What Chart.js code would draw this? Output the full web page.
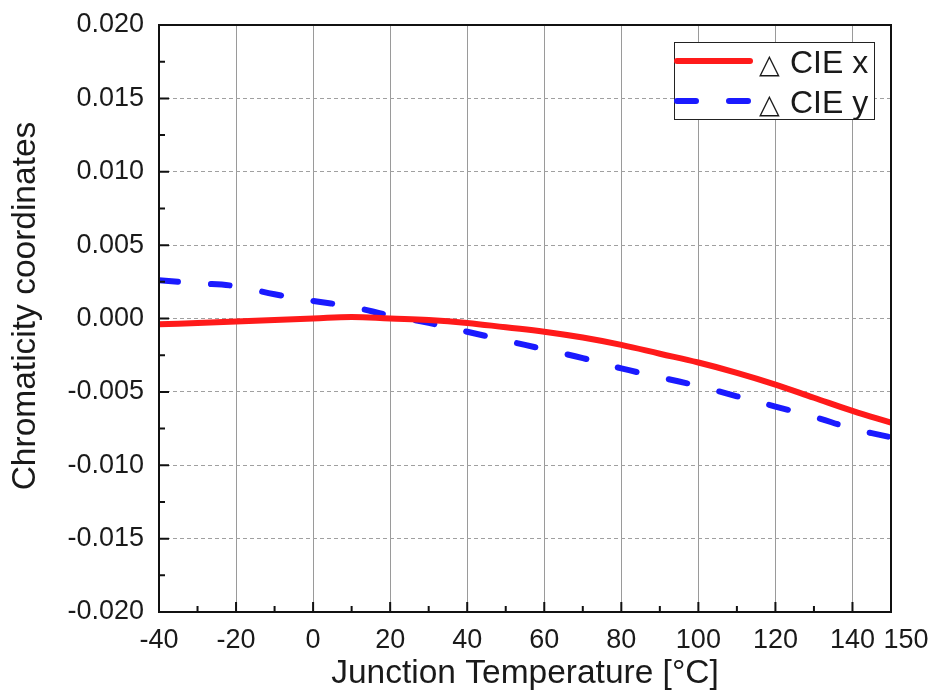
<!DOCTYPE html>
<html><head><meta charset="utf-8">
<script src="https://cdn.jsdelivr.net/npm/chart.js@4/dist/chart.umd.min.js"></script>
<style>html,body{margin:0;padding:0;background:#fff}#wrap{width:933px;height:693px}</style>
</head><body><div id="wrap"><canvas id="c" width="933" height="693"></canvas></div>
<script>
const temperatures = [-40,-30,-20,-10,0,10,20,30,40,50,60,70,80,90,100,110,120,130,140,150];
const deltaCIEx = [-0.0004,-0.0003,-0.0002,-0.0001,0.0000,0.0001,0.0000,-0.0001,-0.0003,-0.0006,-0.0009,-0.0013,-0.0018,-0.0024,-0.0030,-0.0037,-0.0045,-0.0054,-0.0063,-0.0071];
const deltaCIEy = [0.0026,0.0024,0.0022,0.00165,0.0012,0.0008,0.0002,-0.0003,-0.0009,-0.0015,-0.0021,-0.0027,-0.0034,-0.0040,-0.0046,-0.0053,-0.0060,-0.0067,-0.0075,-0.0081];
const xTickValues = [-40,-20,0,20,40,60,80,100,120,140,150];
const xMinorValues = [-30,-10,10,30,50,70,90,110,130];
const yTickValues = [-0.02,-0.015,-0.01,-0.005,0,0.005,0.01,0.015,0.02];
const seriesLabels = ['\u25B3 CIE x','\u25B3 CIE y'];
const xTitle = 'Junction Temperature [\u00B0C]';
const yTitle = 'Chromaticity coordinates';

const FONT = "'Liberation Sans', Arial, 'DejaVu Sans', sans-serif";

const decor = {
  id:'decor',
  afterDraw(chart){
    const ctx = chart.ctx, a = chart.chartArea, xs = chart.scales.x, ys = chart.scales.y;
    ctx.save();
    ctx.strokeStyle = '#111'; ctx.lineWidth = 2; ctx.setLineDash([]);
    ctx.strokeRect(a.left, a.top, a.right - a.left, a.bottom - a.top);
    ctx.beginPath();
    xTickValues.forEach(v => { const p = xs.getPixelForValue(v); ctx.moveTo(p, a.bottom); ctx.lineTo(p, a.bottom - 10); });
    xMinorValues.forEach(v => { const p = xs.getPixelForValue(v); ctx.moveTo(p, a.bottom); ctx.lineTo(p, a.bottom - 6); });
    yTickValues.forEach(v => { const p = ys.getPixelForValue(v); ctx.moveTo(a.left, p); ctx.lineTo(a.left + 10, p); });
    for (let i = 0; i < yTickValues.length - 1; i++) {
      const p = ys.getPixelForValue((yTickValues[i] + yTickValues[i+1]) / 2);
      ctx.moveTo(a.left, p); ctx.lineTo(a.left + 6, p);
    }
    ctx.stroke();
    ctx.fillStyle = '#1a1a1a';
    ctx.font = '33.5px ' + FONT;
    ctx.textAlign = 'center'; ctx.textBaseline = 'middle';
    ctx.fillText(xTitle, (a.left + a.right) / 2, 674);
    ctx.save();
    ctx.translate(26, 306); ctx.rotate(-Math.PI / 2);
    ctx.fillText(yTitle, 0, 0);
    ctx.restore();
    const lx = 674, ly = 42, lw = 200, lh = 77;
    ctx.fillStyle = '#fff'; ctx.fillRect(lx, ly, lw, lh);
    ctx.strokeStyle = '#222'; ctx.lineWidth = 1; ctx.strokeRect(lx + 0.5, ly + 0.5, lw, lh);
    chart.data.datasets.forEach((ds, i) => {
      const yy = ly + 19 + i * 40;
      ctx.save();
      ctx.strokeStyle = ds.borderColor; ctx.lineWidth = ds.borderWidth; ctx.lineCap = 'round';
      ctx.setLineDash(ds.borderDash || []);
      ctx.beginPath(); ctx.moveTo(lx + 3, yy); ctx.lineTo(lx + 76, yy); ctx.stroke();
      ctx.restore();
      const sp = ds.label.indexOf(' ');
      const sym = ds.label.slice(0, sp), txt = ds.label.slice(sp + 1);
      ctx.fillStyle = '#1a1a1a'; ctx.textAlign = 'left'; ctx.textBaseline = 'alphabetic';
      ctx.font = "27px 'DejaVu Sans', sans-serif";
      ctx.fillText(sym, lx + 85, yy + 12);
      ctx.font = '32px ' + FONT;
      ctx.fillText(txt, lx + 116, yy + 12);
    });
    ctx.restore();
  }
};

function zeroPad(s){ s.paddingLeft = 0; s.paddingRight = 0; s.paddingTop = 0; s.paddingBottom = 0; }

new Chart(document.getElementById('c'), {
  type: 'line',
  data: {
    labels: temperatures,
    datasets: [
      { label: seriesLabels[0], data: temperatures.map((t,i)=>({x:t,y:deltaCIEx[i]})), borderColor:'#ff1a1a', borderWidth:6, pointRadius:0, tension:0.4, fill:false, borderCapStyle:'round' },
      { label: seriesLabels[1], data: temperatures.map((t,i)=>({x:t,y:deltaCIEy[i]})), borderColor:'#1a1aff', borderWidth:6, borderDash:[19,33], borderCapStyle:'round', pointRadius:0, tension:0.4, fill:false }
    ]
  },
  options: {
    responsive:false, animation:false, devicePixelRatio:1,
    layout:{ padding:{ left:0, top:25, right:42, bottom:0 } },
    plugins:{ legend:{display:false}, tooltip:{enabled:false}, title:{display:false} },
    scales:{
      x:{ type:'linear', min:-40, max:150,
        afterBuildTicks(s){ s.ticks = xTickValues.map(v=>({value:v})); },
        afterFit(s){ s.height = 81; zeroPad(s); },
        grid:{ color:'#9a9a9a', lineWidth:1, drawTicks:false },
        border:{ display:false },
        ticks:{ autoSkip:false, maxRotation:0, padding:12, color:'#1a1a1a', font:{ family:FONT, size:27 }, callback:(v)=> v === 150 ? '    150' : String(v) }
      },
      y:{ type:'linear', min:-0.02, max:0.02,
        afterBuildTicks(s){ s.ticks = yTickValues.map(v=>({value:v})); },
        afterFit(s){ s.width = 159; zeroPad(s); },
        grid:{ color:'#a0a0a0', lineWidth:1, drawTicks:false },
        border:{ display:false, dash:[4,3] },
        ticks:{ padding:15, color:'#1a1a1a', font:{ family:FONT, size:27 }, callback:(v)=>Number(v).toFixed(3) }
      }
    }
  },
  plugins:[decor]
});
</script></body></html>
